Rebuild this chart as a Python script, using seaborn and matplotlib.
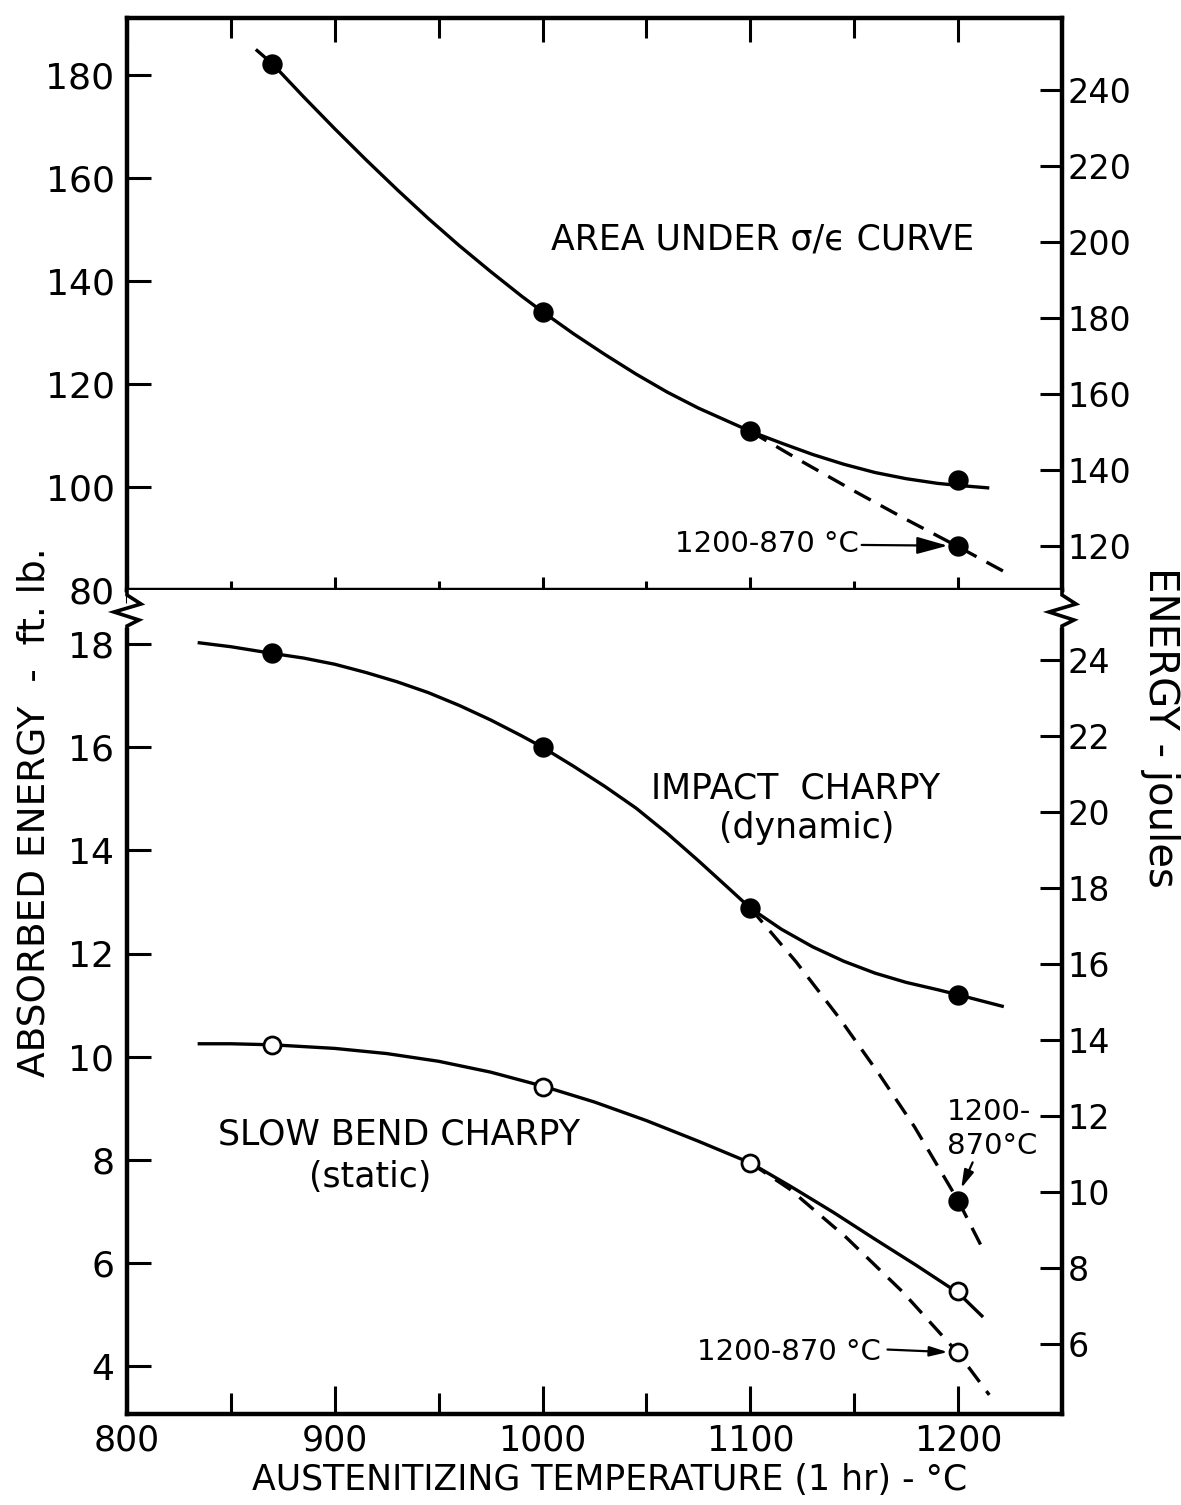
import numpy as np
import pandas as pd
import seaborn as sns
import matplotlib.pyplot as plt

sns.set_theme(style="ticks")
plt.rcParams['font.family'] = ['DejaVu Sans']
plt.rcParams['axes.facecolor'] = 'white'
plt.rcParams['text.color'] = 'black'
plt.rcParams['axes.labelcolor'] = 'black'
plt.rcParams['xtick.color'] = 'black'
plt.rcParams['ytick.color'] = 'black'
plt.rcParams['xtick.labelcolor'] = 'black'
plt.rcParams['ytick.labelcolor'] = 'black'

J_PER_FTLB = 1.3558

# ---------------- data ----------------
temps = [870, 1000, 1100, 1200]

# Area under sigma/epsilon curve (ft-lb)
area_pts = [182.1, 134.0, 110.8, 101.4]
area_curve_T = [862, 870, 885, 900, 915, 930, 945, 960, 975, 990, 1000, 1015, 1030, 1045,
                1060, 1075, 1090, 1100, 1115, 1130, 1145, 1160, 1175, 1190, 1200, 1215]
area_curve_E = [184.9, 182.1, 175.7, 169.5, 163.5, 157.7, 152.1, 146.8, 141.8, 137.0, 134.0,
                129.7, 125.7, 121.9, 118.4, 115.3, 112.6, 110.8, 108.5, 106.3, 104.4, 102.8,
                101.6, 100.7, 100.3, 99.8]
area_dash_T = [1100, 1125, 1150, 1175, 1200, 1222]
area_dash_E = [110.8, 104.9, 99.2, 93.7, 88.4, 83.6]
area_cycle_T = [1200]
area_cycle_E = [88.6]

# Impact Charpy (dynamic)
impact_pts = [17.82, 16.0, 12.88, 11.2]
impact_curve_T = [834, 850, 870, 885, 900, 915, 930, 945, 960, 975, 990, 1000, 1015, 1030,
                  1045, 1060, 1075, 1090, 1100, 1115, 1130, 1145, 1160, 1175, 1190, 1200, 1222]
impact_curve_E = [18.03, 17.95, 17.82, 17.73, 17.61, 17.45, 17.27, 17.06, 16.81, 16.53, 16.22,
                  16.0, 15.63, 15.24, 14.82, 14.33, 13.80, 13.25, 12.88, 12.47, 12.13, 11.85,
                  11.62, 11.44, 11.30, 11.2, 10.97]
impact_dash_T = [1100, 1122, 1143, 1162, 1179, 1200, 1211]
impact_dash_E = [12.88, 11.84, 10.74, 9.66, 8.64, 7.21, 6.34]
impact_cycle_T = [1200]
impact_cycle_E = [7.21]

# Slow bend Charpy (static)
slow_pts = [10.23, 9.41, 7.94, 5.45]
slow_curve_T = [834, 850, 870, 900, 925, 950, 975, 1000, 1025, 1050, 1075, 1100, 1120, 1140,
                1160, 1180, 1200, 1212]
slow_curve_E = [10.25, 10.25, 10.23, 10.16, 10.06, 9.91, 9.70, 9.43, 9.12, 8.76, 8.36, 7.94,
                7.47, 6.98, 6.46, 5.95, 5.42, 4.95]
slow_dash_T = [1100, 1119, 1146, 1173, 1200, 1215]
slow_dash_E = [7.94, 7.43, 6.50, 5.45, 4.25, 3.44]
slow_cycle_T = [1200]
slow_cycle_E = [4.28]

x_major = [800, 900, 1000, 1100, 1200]
x_minor = [850, 950, 1050, 1150]
top_left_ticks = [80, 100, 120, 140, 160, 180]
top_right_ticks = [120, 140, 160, 180, 200, 220, 240]
bot_left_ticks = [4, 6, 8, 10, 12, 14, 16, 18]
bot_right_ticks = [4, 6, 8, 10, 12, 14, 16, 18, 20, 22, 24]

# ---------------- figure ----------------
W, H = 1181, 1505
fig = plt.figure(figsize=(W / 100, H / 100), dpi=100)
L, R = 127 / W, 1062 / W
top_y0, top_y1 = 18, 590
bot_y0, bot_y1 = 590, 1414
ax_top = fig.add_axes([L, 1 - top_y1 / H, R - L, (top_y1 - top_y0) / H])
ax_bot = fig.add_axes([L, 1 - bot_y1 / H, R - L, (bot_y1 - bot_y0) / H])

TOP_YLIM = (80, 191)
BOT_YLIM = (3.07, 19.05)
XLIM = (800, 1250)

LW = 2.4
DASH = [5.6, 3.4]
TXTFS = 25
tick_px = 0.72  # points per pixel


def curve(ax, T, E, dashed=False):
    sns.lineplot(x=T, y=E, ax=ax, color='black', lw=LW, sort=False,
                 estimator=None, legend=False)
    ln = ax.lines[-1]
    ln.set_solid_capstyle('butt')
    ln.set_solid_joinstyle('round')
    if dashed:
        ln.set_dashes(DASH)
        ln.set_dash_capstyle('butt')


def pts(ax, T, E, filled=True):
    if filled:
        sns.scatterplot(x=T, y=E, ax=ax, s=215, color='black', edgecolor='black',
                        linewidth=0, zorder=5, legend=False)
    else:
        sns.scatterplot(x=T, y=E, ax=ax, s=150, color='white', edgecolor='black',
                        linewidth=2.0, zorder=5, legend=False)


# top panel
curve(ax_top, area_curve_T, area_curve_E)
curve(ax_top, area_dash_T, area_dash_E, dashed=True)
pts(ax_top, temps, area_pts)
pts(ax_top, area_cycle_T, area_cycle_E)

# bottom panel
curve(ax_bot, impact_curve_T, impact_curve_E)
curve(ax_bot, impact_dash_T, impact_dash_E, dashed=True)
pts(ax_bot, temps, impact_pts)
pts(ax_bot, impact_cycle_T, impact_cycle_E)

curve(ax_bot, slow_curve_T, slow_curve_E)
curve(ax_bot, slow_dash_T, slow_dash_E, dashed=True)
pts(ax_bot, temps, slow_pts, filled=False)
pts(ax_bot, slow_cycle_T, slow_cycle_E, filled=False)

for ax in (ax_top, ax_bot):
    ax.set_xlim(*XLIM)
    ax.set_xlabel('')
    ax.set_ylabel('')
    for s in ax.spines.values():
        s.set_linewidth(3.2)
        s.set_color('black')
ax_top.set_ylim(*TOP_YLIM)
ax_bot.set_ylim(*BOT_YLIM)

# x ticks
ax_top.set_xticks(x_major)
ax_top.set_xticks(x_minor, minor=True)
ax_top.tick_params(axis='x', which='both', direction='inout', bottom=True, top=False,
                   labelbottom=False, width=2.2, color='black')
ax_top.tick_params(axis='x', which='major', length=26 * tick_px)
ax_top.tick_params(axis='x', which='minor', length=18 * tick_px)

sx = ax_top.secondary_xaxis('top')
sx.set_xticks(x_major)
sx.set_xticks(x_minor, minor=True)
sx.tick_params(axis='x', which='both', direction='in', labeltop=False, width=2.2, color='black')
sx.tick_params(axis='x', which='major', length=24 * tick_px)
sx.tick_params(axis='x', which='minor', length=20 * tick_px)
sx.spines['top'].set_visible(False)

ax_bot.set_xticks(x_major)
ax_bot.set_xticks(x_minor, minor=True)
ax_bot.set_xticklabels([str(v) for v in x_major])
ax_bot.tick_params(axis='x', which='both', direction='in', bottom=True, top=False,
                   width=2.2, color='black', labelsize=25, pad=7)
ax_bot.tick_params(axis='x', which='major', length=28 * tick_px)
ax_bot.tick_params(axis='x', which='minor', length=21 * tick_px)

# left y ticks
ax_top.set_yticks(top_left_ticks)
ax_bot.set_yticks(bot_left_ticks)
for ax in (ax_top, ax_bot):
    ax.tick_params(axis='y', which='major', direction='in', left=True, right=False,
                   length=24 * tick_px, width=2.2, labelsize=26, pad=9, color='black')
    ax.yaxis.set_minor_locator(plt.NullLocator())

# right y ticks (joules)
fwd = lambda v: v * J_PER_FTLB
inv = lambda v: v / J_PER_FTLB
for ax, ticks in ((ax_top, top_right_ticks), (ax_bot, bot_right_ticks)):
    sy = ax.secondary_yaxis('right', functions=(fwd, inv))
    sy.set_yticks(ticks)
    sy.yaxis.set_minor_locator(plt.NullLocator())
    sy.tick_params(axis='y', direction='in', length=22 * tick_px, width=2.2,
                   labelsize=24, pad=4, color='black')
    sy.spines['right'].set_visible(False)

# bottom panel: open top with broken-axis marks
ax_bot.spines['top'].set_visible(False)
brk_ft = BOT_YLIM[1] - 40 / 51.5
ax_bot.spines['left'].set_bounds(BOT_YLIM[0], brk_ft)
ax_bot.spines['right'].set_bounds(BOT_YLIM[0], brk_ft)

AW, AH = (R - L) * W, (bot_y1 - bot_y0)
zig = [(0, 0), (0, 5), (14, 14), (-13, 22), (12, 30), (0, 36), (0, 40)]
for x0 in (0.0, 1.0):
    xs = [x0 + dx / AW for dx, dy in zig]
    ys = [1 - dy / AH for dx, dy in zig]
    ax_bot.plot(xs, ys, transform=ax_bot.transAxes, color='black', lw=2.6,
                clip_on=False, solid_joinstyle='miter', zorder=10)

# ---------------- text ----------------
ax_top.text(1106, 148.0, 'AREA UNDER σ/ϵ CURVE', ha='center', va='center', fontsize=TXTFS)
ax_bot.text(1122, 15.2, 'IMPACT  CHARPY', ha='center', va='center', fontsize=TXTFS)
ax_bot.text(1127, 14.43, '(dynamic)', ha='center', va='center', fontsize=TXTFS)
ax_bot.text(931, 8.5, 'SLOW BEND CHARPY', ha='center', va='center', fontsize=TXTFS)
ax_bot.text(917, 7.67, '(static)', ha='center', va='center', fontsize=TXTFS)

arrow = dict(arrowstyle='-|>,head_length=0.9,head_width=0.25', color='black', lw=1.6,
             shrinkA=0, shrinkB=0)
ax_top.annotate('1200-870 °C', xy=(1195, 88.6), xytext=(1152, 88.9),
                ha='right', va='center', fontsize=21, arrowprops=arrow)
ax_bot.annotate('', xy=(1195, 4.27), xytext=(1166, 4.32), arrowprops=arrow)
ax_bot.text(1163, 4.28, '1200-870 °C', ha='right', va='center', fontsize=21)
ax_bot.text(1194.5, 8.92, '1200-', ha='left', va='center', fontsize=21)
ax_bot.text(1194.5, 8.26, '870°C', ha='left', va='center', fontsize=21)
ax_bot.annotate('', xy=(1201.5, 7.45), xytext=(1207, 7.95), arrowprops=arrow)

fig.text(35 / W, 1 - 812 / H, 'ABSORBED ENERGY  -  ft. lb.', rotation=90,
         ha='center', va='center', fontsize=27)
fig.text(1160 / W, 1 - 727 / H, 'ENERGY - joules', rotation=-90,
         ha='center', va='center', fontsize=29)
fig.text(610 / W, 1 - 1480 / H, 'AUSTENITIZING TEMPERATURE (1 hr) - °C',
         ha='center', va='center', fontsize=25)

fig.savefig('out.png', dpi=100, facecolor='white')
